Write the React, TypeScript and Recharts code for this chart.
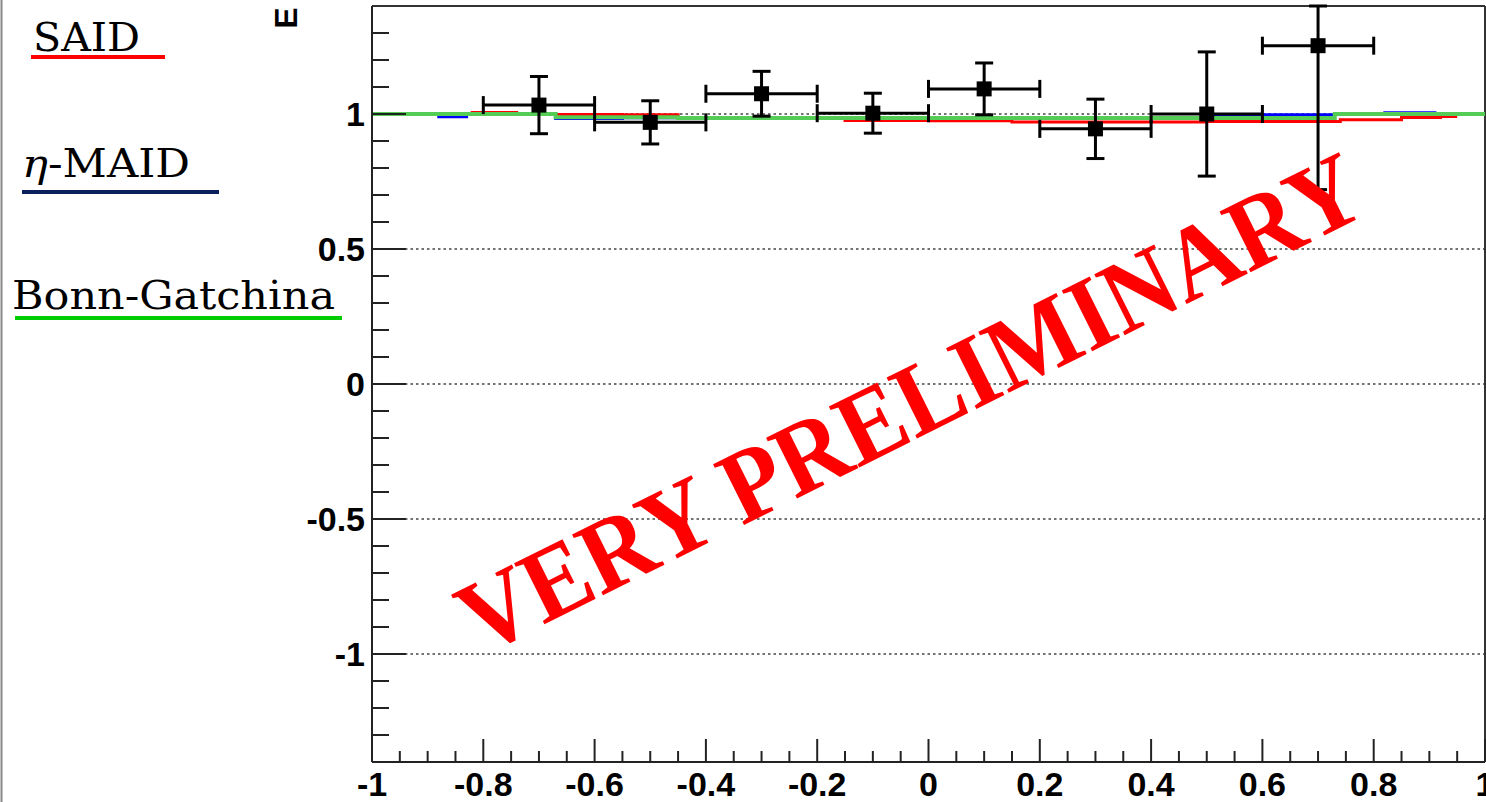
import { ComposedChart, Line, Scatter, ErrorBar, XAxis, YAxis, ReferenceLine } from 'recharts';

// measured asymmetry E vs cos(theta)
const cosTheta = [-0.7, -0.5, -0.3, -0.1, 0.1, 0.3, 0.5, 0.7];
const eValues = [1.033, 0.969, 1.075, 1.003, 1.093, 0.945, 1.0, 1.253];
const eErrors = [0.106, 0.08, 0.083, 0.074, 0.096, 0.11, 0.23, 0.533];
const binHalfWidth = [0.1, 0.1, 0.1, 0.1, 0.1, 0.1, 0.1, 0.1];

// model predictions (histogram steps)
const saidX = [-0.98, -0.82, -0.74, -0.55, -0.45, -0.15, 0, 0.15, 0.5, 0.74, 0.85, 0.92, 0.95];
const saidE = [1.0, 1.006, 0.998, 0.997, 0.986, 0.976, 0.975, 0.97, 0.972, 0.979, 0.987, 0.991, 0.991];
const maidX = [-0.98, -0.88, -0.83, -0.67, -0.55, 0.49, 0.73, 0.82, 0.91, 0.95];
const maidE = [1.0, 0.99, 1.0, 0.983, 0.986, 0.997, 1.0, 1.005, 1.0, 1.0];
const bgX = [-1, -0.67, -0.45, 0.73, 1];
const bgE = [1.0, 0.988, 0.985, 1.0, 1.0];

const yDomain: [number, number] = [-1.4, 1.4];
const yTicks = [-1.3, -1.2, -1.1, -1, -0.9, -0.8, -0.7, -0.6, -0.5, -0.4, -0.3, -0.2, -0.1, 0,
  0.1, 0.2, 0.3, 0.4, 0.5, 0.6, 0.7, 0.8, 0.9, 1, 1.1, 1.2, 1.3];
const yLabels = [-1, -0.5, 0, 0.5, 1];
const xTicks = [-1, -0.95, -0.9, -0.85, -0.8, -0.75, -0.7, -0.65, -0.6, -0.55, -0.5, -0.45, -0.4, -0.35,
  -0.3, -0.25, -0.2, -0.15, -0.1, -0.05, 0, 0.05, 0.1, 0.15, 0.2, 0.25, 0.3, 0.35, 0.4, 0.45, 0.5, 0.55,
  0.6, 0.65, 0.7, 0.75, 0.8, 0.85, 0.9, 0.95, 1];
const xLabels = [-1, -0.8, -0.6, -0.4, -0.2, 0, 0.2, 0.4, 0.6, 0.8, 1];

// error bars are cut at the frame like ROOT does
const points = cosTheta.map((x, i) => ({
  x,
  e: eValues[i],
  ey: [eErrors[i], Math.min(eErrors[i], yDomain[1] - eValues[i])],
  ex: binHalfWidth[i],
}));
const steps = (xs: number[], ys: number[]) => xs.map((x, i) => ({ x, e: ys[i] }));

const labelFont = '"Liberation Sans", Arial, sans-serif';
const isIn = (list: number[], v: number) => list.some((l) => Math.abs(l - v) < 1e-6);

const YTick = (props: any) => {
  const { x, y, payload } = props;
  const major = isIn(yLabels, payload.value);
  return (
    <g>
      <line x1={x} x2={x + (major ? 34 : 17)} y1={y} y2={y} stroke="#222" strokeWidth={2} />
      {major && (
        <text x={x - 7} y={y + 12} textAnchor="end" fontSize={34} fontWeight="bold" fontFamily={labelFont} fill="#000">
          {String(payload.value)}
        </text>
      )}
    </g>
  );
};

const XTick = (props: any) => {
  const { x, y, payload } = props;
  const major = isIn(xLabels, payload.value);
  return (
    <g>
      <line x1={x} x2={x} y1={y} y2={y - (major ? 23 : 11)} stroke="#222" strokeWidth={2} />
      {major && (
        <text x={x} y={y + 34} textAnchor="middle" fontSize={34} fontWeight="bold" fontFamily={labelFont} fill="#000">
          {String(payload.value)}
        </text>
      )}
    </g>
  );
};

const Square = (props: any) => {
  const { cx, cy } = props;
  return <rect x={cx - 7.5} y={cy - 7.5} width={15} height={15} fill="#000" />;
};

const legendFont = '"DejaVu Serif", serif';

export default function App() {
  return (
    <div style={{ position: 'absolute', left: 0, top: 0, width: 1486, height: 802, background: '#fff', overflow: 'hidden' }}>
      <ComposedChart width={1486} height={802} margin={{ top: 6, right: 1, bottom: 0, left: 0 }}>
        <XAxis
          type="number"
          dataKey="x"
          domain={[-1, 1]}
          ticks={xTicks}
          interval={0}
          allowDataOverflow
          height={40}
          tickSize={0}
          tickMargin={0}
          tick={<XTick />}
          axisLine={{ stroke: '#222', strokeWidth: 2 }}
        />
        <YAxis
          type="number"
          dataKey="e"
          domain={yDomain}
          ticks={yTicks}
          interval={0}
          allowDataOverflow
          width={372}
          tickSize={0}
          tickMargin={0}
          tick={<YTick />}
          axisLine={{ stroke: '#222', strokeWidth: 2 }}
        />
        {yLabels.map((v) => (
          <ReferenceLine key={v} y={v} stroke="#444" strokeWidth={1.5} strokeDasharray="2.5 3" />
        ))}
        <ReferenceLine y={yDomain[1]} stroke="#333" strokeWidth={2} />
        <ReferenceLine x={1} stroke="#333" strokeWidth={2} />
        <Line data={steps(maidX, maidE)} dataKey="e" type="stepAfter" stroke="#0000ff" strokeWidth={3} dot={false} isAnimationActive={false} />
        <Line data={steps(saidX, saidE)} dataKey="e" type="stepAfter" stroke="#ff0000" strokeWidth={3} dot={false} isAnimationActive={false} />
        <Line data={steps(bgX, bgE)} dataKey="e" type="stepAfter" stroke="#55cc55" strokeWidth={4} dot={false} isAnimationActive={false} />
        <Scatter data={points} dataKey="e" shape={<Square />} isAnimationActive={false}>
          <ErrorBar dataKey="ex" direction="x" width={9} strokeWidth={3} stroke="#000" />
          <ErrorBar dataKey="ey" direction="y" width={9} strokeWidth={3} stroke="#000" />
        </Scatter>
      </ComposedChart>
      <svg width={1486} height={802} style={{ position: 'absolute', left: 0, top: 0, pointerEvents: 'none' }}>
        <line x1={1.5} x2={1.5} y1={0} y2={802} stroke="#888" strokeWidth={2} />
        <text transform="translate(297,18) rotate(-90)" textAnchor="middle" fontSize={32} fontWeight="bold" fontFamily={labelFont}>E</text>

        <text x={33} y={51} fontSize={40} fontFamily={legendFont} textLength={107} lengthAdjust="spacingAndGlyphs">SAID</text>
        <rect x={31} y={55} width={134} height={4} fill="#ff0000" />
        <text x={22} y={177} fontSize={40} fontFamily={legendFont} textLength={168} lengthAdjust="spacingAndGlyphs">
          <tspan fontStyle="italic">η</tspan>-MAID
        </text>
        <rect x={22} y={190} width={197} height={4} fill="#0a1f5c" />
        <text x={12} y={309} fontSize={40} fontFamily={legendFont} textLength={323} lengthAdjust="spacingAndGlyphs">Bonn-Gatchina</text>
        <rect x={15} y={316} width={327} height={4} fill="#00cc00" />

        <text transform="translate(910,403) rotate(-26.5)" y={35} textAnchor="middle" fontSize={104} fontWeight="bold"
          fontFamily='"Liberation Serif", "Times New Roman", serif' fill="#ff0000" textLength={995} lengthAdjust="spacingAndGlyphs">
          VERY PRELIMINARY
        </text>
      </svg>
    </div>
  );
}
